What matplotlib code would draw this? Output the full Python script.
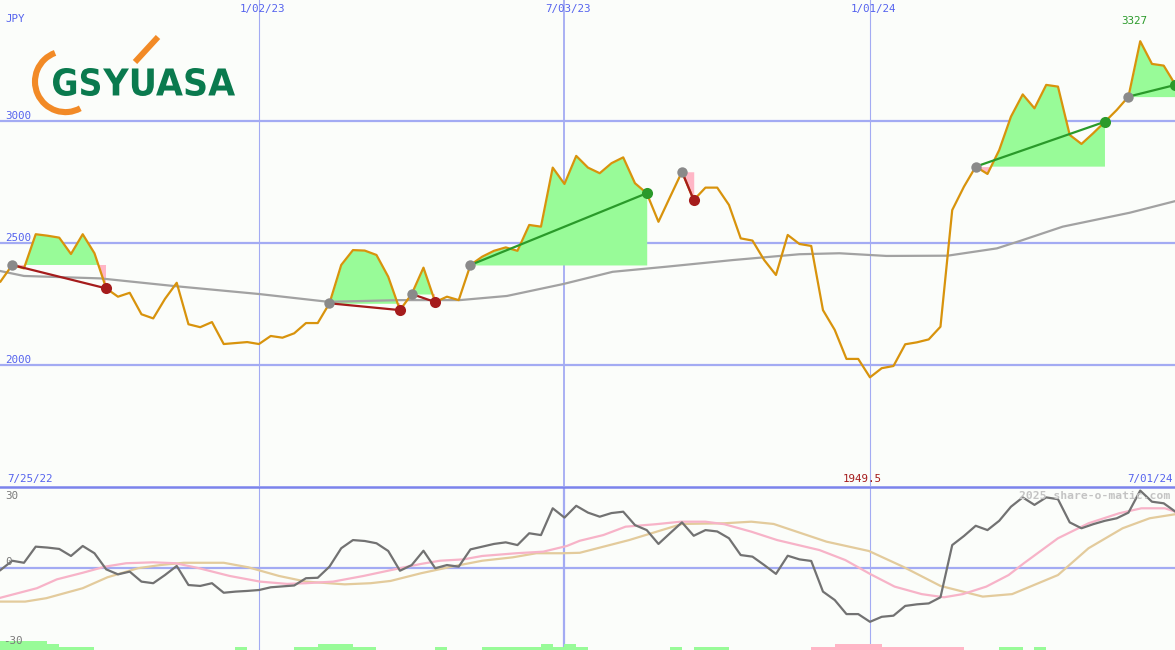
import numpy as np
import matplotlib
matplotlib.use('Agg')
import matplotlib.pyplot as plt
from matplotlib.patches import Arc, PathPatch
from matplotlib.textpath import TextPath
from matplotlib.font_manager import FontProperties
from matplotlib.transforms import Affine2D

# weekly closes (JPY), week 0 = 1/02/23
weeks = np.arange(-22, 79)
price = [
    2342, 2410, 2396, 2536, 2530, 2522, 2455, 2536, 2458, 2314,
    2280, 2296, 2208, 2191, 2271, 2337, 2167, 2155, 2176, 2086,
    2090, 2094, 2086, 2119, 2112, 2130, 2172, 2172, 2253, 2410,
    2471, 2469, 2451, 2362, 2225, 2291, 2399, 2258, 2280, 2266,
    2410, 2444, 2468, 2482, 2468, 2574, 2567, 2809, 2742, 2857,
    2809, 2786, 2827, 2851, 2745, 2704, 2587, 2690, 2792, 2676,
    2727, 2727, 2656, 2519, 2510, 2430, 2369, 2533, 2496, 2488,
    2225, 2144, 2025, 2025, 1949.5, 1987, 1996, 2085, 2093, 2105,
    2157, 2635, 2731, 2813, 2783, 2881, 3018, 3109, 3052, 3148,
    3141, 2943, 2906, 2950, 2997, 3045, 3100, 3327, 3234, 3227,
    3148]

# long moving average
ma_weeks = [-22, -20, -13.5, -7.3, 0, 5.9, 12, 17.1, 21.1, 25.9, 30.1,
            34.7, 40.3, 46, 49.4, 53.4, 58.6, 62.8, 64.8, 68.4, 74.1, 78]
ma_vals = [2385, 2365, 2355, 2324, 2291, 2259, 2266, 2266, 2283, 2332, 2382,
           2403, 2430, 2454, 2458, 2447, 2448, 2478, 2509, 2567, 2624, 2672]

# trades
entry_weeks = [-21, 6, 13, 18, 36, 61, 74]
exit_weeks = [-13, 12, 15, 33, 37, 72, 78]

# momentum oscillator
osc = [
    -0.9, 3.2, 2.3, 9.4, 9.0, 8.4, 5.3, 9.7, 6.5, -0.6,
    -2.8, -1.6, -6.0, -6.7, -3.1, 0.9, -7.5, -7.9, -6.7, -10.9,
    -10.4, -10.1, -9.7, -8.5, -8.1, -7.7, -4.5, -4.3, 0.6, 8.7,
    12.3, 11.9, 10.9, 7.5, -1.2, 1.3, 7.6, -0.1, 1.3, 0.6,
    8.2, 9.4, 10.6, 11.3, 10.1, 15.3, 14.5, 26.3, 22.2, 27.4,
    24.4, 22.6, 24.2, 24.8, 18.9, 16.7, 10.6, 15.4, 20.1, 14.2,
    16.7, 16.1, 13.1, 5.7, 5.0, 1.3, -2.6, 5.4, 3.8, 3.1,
    -10.4, -14.1, -20.3, -20.3, -23.7, -21.5, -21.0, -16.7, -16.0, -15.6,
    -12.9, 10.1, 14.1, 18.6, 16.7, 20.8, 27.0, 31.1, 27.8, 31.1,
    30.3, 20.1, 17.5, 19.3, 20.8, 21.9, 24.4, 34.1, 29.2, 28.5,
    24.8]

fast_weeks = [-22, -18.9, -17.2, -15, -13.1, -11.3, -9, -7.1, -5.1, -2.5, 0.1,
              2.4, 4, 6.3, 8.9, 11.8, 13.8, 15.4, 17.4, 19, 21.9, 24.2, 26.2,
              27.3, 29.3, 31.2, 33.8, 35.9, 38, 39.6, 41.9, 44.1, 47.7, 49.9,
              52, 54.1, 56.4, 58.3, 59.9, 61.9, 63.8, 65.1, 68, 70.6, 73.2,
              75.1, 77.1, 78]
fast_vals = [-13.1, -8.9, -5.0, -2.1, 0.6, 2.1, 2.5, 2.1, -0.1, -3.5, -6.0,
             -7.0, -6.7, -6.0, -3.5, -0.3, 1.8, 3.2, 3.8, 5.3, 6.5, 7.2, 9.7,
             12.0, 14.5, 18.2, 19.3, 20.4, 20.4, 19.3, 16.0, 12.3, 7.9, 3.5,
             -2.6, -8.2, -11.5, -12.9, -11.5, -8.2, -3.1, 2.1, 13.1, 19.7, 24.1,
             26.3, 26.3, 24.8]

slow_weeks = [-22, -19.9, -18.1, -15, -12.9, -10.3, -8.4, -6.4, -3, -0.9, 1.7,
              4, 7.3, 9.5, 11.2, 13.8, 16.4, 19, 21.6, 23.6, 25.8, 27.3, 31.5,
              36, 39.6, 41.9, 43.8, 48.3, 51.9, 54.8, 58, 61.6, 64.1, 68, 70.6,
              73.5, 75.8, 78]
slow_vals = [-14.8, -14.8, -13.3, -8.9, -4.1, -0.1, 1.3, 2.3, 2.3, 0.3, -3.5,
             -6.0, -7.2, -6.7, -5.7, -2.3, 0.6, 3.2, 4.7, 6.5, 6.5, 6.7, 12.3,
             19.4, 19.7, 20.4, 19.4, 11.6, 7.5, 0.6, -7.9, -12.6, -11.5, -3.1,
             8.7, 17.5, 21.9, 23.7]

# signal strength blocks along the bottom
bar_start = [-22, -18, -17, -2, 3, 5, 8, 15, 19, 24, 25, 26, 27, 35, 37, 47, 49, 53, 63, 66]
bar_end = [-18, -17, -14, -1, 5, 8, 10, 16, 24, 25, 26, 27, 28, 36, 40, 49, 53, 60, 65, 67]
bar_level = [3, 2, 1, 1, 1, 2, 1, 1, 1, 2, 1, 2, 1, 1, 1, 1, 2, 1, 1, 1]
bar_up = [1, 1, 1, 1, 1, 1, 1, 1, 1, 1, 1, 1, 1, 1, 1, 0, 0, 0, 1, 1]

bg = '#fbfdfa'
grid = '#a3abf3'
green_fill = '#98fb98'
pink_fill = '#ffb6c6'
loss = '#a51c1c'
gain = '#2a9a2a'
mono = 'DejaVu Sans Mono'

fig = plt.figure(figsize=(11.75, 6.5), dpi=100, facecolor=bg)

# ---- price panel
ax = fig.add_axes([0, 1 - 486 / 650, 1, 486 / 650], facecolor=bg)
ax.set_xlim(-22.04, 77.96)
ax.set_ylim(1504.2, 3495.9)
ax.axis('off')
for lv in [2000, 2500, 3000]:
    ax.axhline(lv, color=grid, lw=1.6, zorder=0)
for d, w in zip([0, 26, 52], [0.8, 1.3, 0.8]):
    ax.axvline(d, color=grid, lw=w, zorder=0)

p = np.array(price)
ax.plot(ma_weeks, ma_vals, color='#a2a2a2', lw=1.6, zorder=2)

for e, x in zip(entry_weeks, exit_weeks):
    seg = (weeks >= e) & (weeks <= x)
    ws, ps = weeks[seg], p[seg]
    lvl = p[weeks == e][0]
    ax.fill_between(ws, lvl, ps, where=ps >= lvl, interpolate=True,
                    color=green_fill, lw=0, zorder=1)
    ax.fill_between(ws, lvl, ps, where=ps <= lvl, interpolate=True,
                    color=pink_fill, lw=0, zorder=1)

ax.plot(weeks, p, color='#d8930c', lw=1.6, zorder=3)

for e, x in zip(entry_weeks, exit_weeks):
    lvl = p[weeks == e][0]
    out = p[weeks == x][0]
    c = gain if out > lvl else loss
    ax.plot([e, x], [lvl, out], color=c, lw=1.6, zorder=4)
    ax.plot(e, lvl, 'o', color='#8a8a8a', ms=7.5, mew=0, zorder=5)
    ax.plot(x, out, 'o', color=c, ms=8, mew=0, zorder=5)

# ---- oscillator panel
ax2 = fig.add_axes([0, 0, 1, 162 / 650], facecolor=bg)
ax2.set_xlim(-22.04, 77.96)
ylo = -36.12
ax2.set_ylim(ylo, 35.24)
ax2.axis('off')
ax2.axhline(0, color=grid, lw=1.6, zorder=0)
for d, w in zip([0, 26, 52], [0.8, 1.6, 0.8]):
    ax2.axvline(d, color=grid, lw=w, zorder=0)

for s, e, lv, up in zip(bar_start, bar_end, bar_level, bar_up):
    ax2.bar(s, lv * 1.32, width=e - s, bottom=ylo, align='edge',
            color=green_fill if up else pink_fill, lw=0, zorder=1)

ax2.plot(slow_weeks, slow_vals, color='#e3cb9c', lw=1.6, zorder=2)
ax2.plot(fast_weeks, fast_vals, color='#f7b3c8', lw=1.6, zorder=3)
ax2.plot(weeks, osc, color='#727272', lw=1.6, zorder=4)

# ---- overlay for labels and logo (pixel coordinates)
ov = fig.add_axes([0, 0, 1, 1])
ov.set_xlim(0, 1175)
ov.set_ylim(650, 0)
ov.axis('off')
ov.plot([0, 1175], [487, 487], color='#7b83ec', lw=1.8)

blue = '#5563ee'
fs = 7.8
ov.text(5, 19, 'JPY', color=blue, fontsize=fs, family=mono, va='center')
for lab, xp in [('1/02/23', 262), ('7/03/23', 568), ('1/01/24', 873)]:
    ov.text(xp, 9, lab, color=blue, fontsize=fs, family=mono, ha='center', va='center')
for lab, yp in [('3000', 116), ('2500', 238), ('2000', 360)]:
    ov.text(5, yp, lab, color=blue, fontsize=fs, family=mono, va='center')
ov.text(1134, 21, '3327', color=gain, fontsize=fs, family=mono, ha='center', va='center')
ov.text(7, 479, '7/25/22', color=blue, fontsize=fs, family=mono, va='center')
ov.text(862, 479, '1949.5', color=loss, fontsize=fs, family=mono, ha='center', va='center')
ov.text(1173, 479, '7/01/24', color=blue, fontsize=fs, family=mono, ha='right', va='center')
for lab, xp, yp in [('30', 5, 496), ('0', 5, 562), ('-30', 3, 641)]:
    ov.text(xp, yp, lab, color='#7a7a7a', fontsize=fs, family=mono, va='center')
ov.text(1170, 496, '2025 share-o-matic.com', color='#c4c4c4', fontsize=8.2,
        family=mono, weight='bold', ha='right', va='center')

# logo
orange = '#f28a26'
logo_green = '#0a7a4e'
ov.add_patch(Arc((65.5, 81.6), 61, 61, theta1=61, theta2=250, color=orange, lw=4.4))
ov.plot([135, 158], [62, 37], color=orange, lw=4.3, solid_capstyle='butt')


def logo_word(s, x0, x1, y0, y1):
    tp = TextPath((0, 0), s, size=10, prop=FontProperties(family='DejaVu Sans', weight='bold'))
    bb = tp.get_extents()
    tr = Affine2D().translate(-bb.x0, -bb.y0).scale((x1 - x0) / bb.width,
                                                  -(y1 - y0) / bb.height).translate(x0, y1)
    ov.add_patch(PathPatch(tr.transform_path(tp), color=logo_green, lw=0))


logo_word('GS', 53, 100, 68, 96)
logo_word('YUASA', 103, 235, 68, 96)

fig.savefig('out.png', dpi=100, facecolor=bg)
